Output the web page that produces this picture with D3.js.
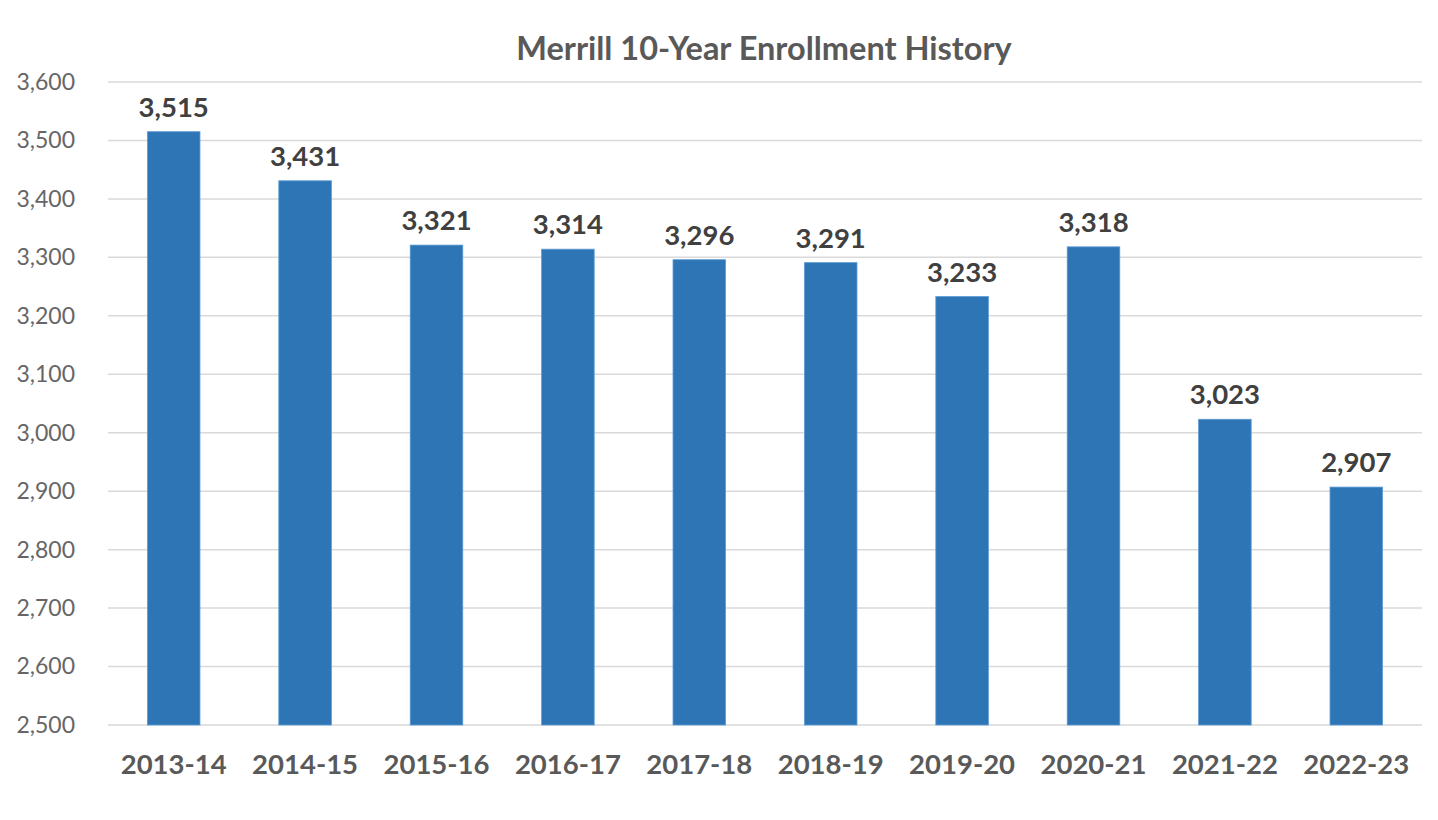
<!DOCTYPE html>
<html>
<head>
<meta charset="utf-8">
<script src="https://cdn.jsdelivr.net/npm/d3@7"></script>
<style>
  body { margin: 0; background: #fff; }
  #root { width: 1438px; height: 820px; }
  text { font-family: Lato, "Open Sans", sans-serif; }
</style>
</head>
<body>
<div id="root"></div>
<script>
var title = "Merrill 10-Year Enrollment History";
var years = ["2013-14", "2014-15", "2015-16", "2016-17", "2017-18", "2018-19", "2019-20", "2020-21", "2021-22", "2022-23"];
var enrollment = [3515, 3431, 3321, 3314, 3296, 3291, 3233, 3318, 3023, 2907];
var yTicks = [2500, 2600, 2700, 2800, 2900, 3000, 3100, 3200, 3300, 3400, 3500, 3600];

var width = 1438, height = 820;
var margin = {top: 82, right: 16, bottom: 95, left: 108};

var svg = d3.select("#root").append("svg")
    .attr("width", width)
    .attr("height", height);

var x = d3.scaleBand()
    .domain(years)
    .range([margin.left, width - margin.right])
    .paddingInner(0.6)
    .paddingOuter(0.3);

var y = d3.scaleLinear()
    .domain([2500, 3600])
    .range([height - margin.bottom, margin.top]);

var fmt = d3.format(",");

// gridlines
svg.append("g")
    .selectAll("line")
    .data(yTicks)
    .enter()
    .append("line")
    .attr("x1", margin.left)
    .attr("x2", width - margin.right)
    .attr("y1", function(d){ return y(d); })
    .attr("y2", function(d){ return y(d); })
    .attr("stroke", "#d9d9d9")
    .attr("stroke-width", 1.5);

// y axis labels
var yAxis = d3.axisLeft(y).tickValues(yTicks).tickFormat(fmt).tickSize(0).tickPadding(33);
svg.append("g")
    .attr("transform", "translate(" + margin.left + ",0)")
    .call(yAxis)
    .call(function(g){ g.select(".domain").remove(); })
    .selectAll("text")
    .attr("font-size", 23)
    .attr("fill", "#666666")
    .style("font-family", "Lato, sans-serif");

// bars
svg.append("g")
    .selectAll("rect")
    .data(enrollment)
    .enter()
    .append("rect")
    .attr("x", function(d, i){ return x(years[i]); })
    .attr("y", function(d){ return y(d); })
    .attr("width", x.bandwidth())
    .attr("height", function(d){ return y(2500) - y(d); })
    .attr("fill", "#2e75b6")
    .attr("stroke", "#5b9bd5")
    .attr("stroke-width", 0.8);

// value labels
svg.append("g")
    .selectAll("text")
    .data(enrollment)
    .enter()
    .append("text")
    .attr("x", function(d, i){ return x(years[i]) + x.bandwidth() / 2; })
    .attr("y", function(d){ return y(d) - 15; })
    .attr("text-anchor", "middle")
    .attr("font-size", 27.5)
    .attr("font-weight", "bold")
    .attr("fill", "#404040")
    .text(function(d){ return fmt(d); });

// x axis labels
var xAxis = d3.axisBottom(x).tickSize(0).tickPadding(29);
svg.append("g")
    .attr("transform", "translate(0," + y(2500) + ")")
    .call(xAxis)
    .call(function(g){ g.select(".domain").remove(); })
    .selectAll("text")
    .attr("font-size", 27.5)
    .attr("font-weight", "bold")
    .attr("fill", "#595959")
    .style("font-family", "Lato, sans-serif");

// title
svg.append("text")
    .attr("x", 764)
    .attr("y", 60)
    .attr("text-anchor", "middle")
    .attr("font-size", 32.5)
    .attr("font-weight", "bold")
    .attr("fill", "#595959")
    .text(title);
</script>
</body>
</html>
